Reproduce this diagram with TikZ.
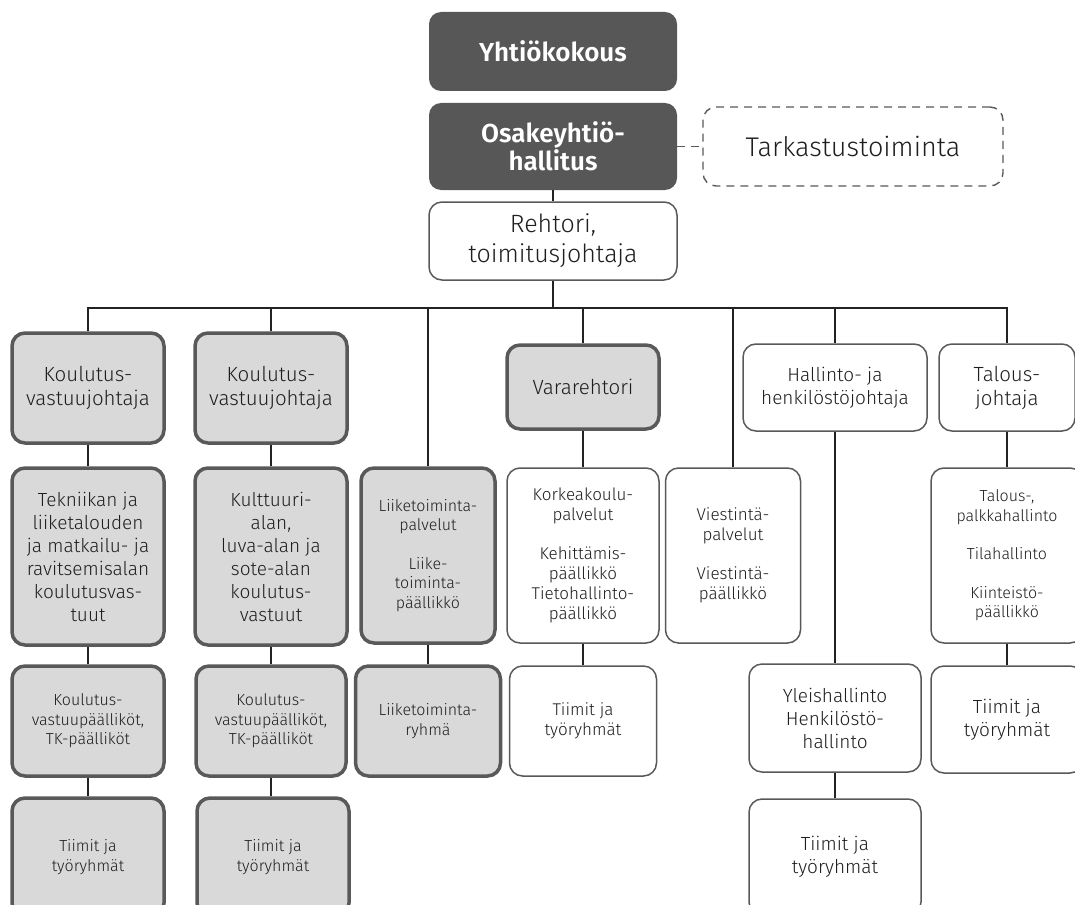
\documentclass[tikz,border=0pt]{standalone}
\usepackage{fontspec}
\setmainfont{Fira Sans}[UprightFont={* Light}, BoldFont={* SemiBold}]
\definecolor{darkc}{HTML}{575757}
\definecolor{lightc}{HTML}{D9D9D9}
\definecolor{bordc}{HTML}{595959}
\definecolor{linec}{HTML}{222222}
\definecolor{txt}{HTML}{1E1E1E}
\begin{document}
\begin{tikzpicture}[x=1pt,y=-1pt,
  every node/.style={inner sep=0pt, align=center, text=txt},
  sz/.style 2 args={minimum width=#1pt, minimum height=#2pt},
  dk/.style={fill=darkc, draw=none, rounded corners=12pt, text=white, font=\bfseries\fontsize{26}{28}\selectfont},
  thk/.style={fill=lightc, draw=bordc, line width=3.5pt, rounded corners=13pt},
  thn/.style={fill=white, draw=bordc, line width=1.5pt, rounded corners=13pt},
  dsh/.style={fill=white, draw=bordc, line width=1.4pt, dash pattern=on 8pt off 6pt, rounded corners=13pt},
  fL/.style={font=\fontsize{25}{30}\selectfont},
  fK/.style={font=\fontsize{20.5}{24}\selectfont},
  fM/.style={font=\fontsize{19}{23}\selectfont},
  fX/.style={font=\fontsize{17}{20}\selectfont},
  fS/.style={font=\fontsize{16}{19.5}\selectfont},
  conn/.style={draw=linec, line width=1.3pt}]
\useasboundingbox (0,0) rectangle (1075,904);
\clip (0,0) rectangle (1075,904);
% top
\node[dk, sz={248}{79}] (yht) at (553,51.5) {Yhtiökokous};
\node[dk, sz={248}{87}] (osa) at (553,146.5) {Osakeyhtiö-\\hallitus};
\node[dsh, sz={300}{79}, font=\fontsize{27}{30}\selectfont] (tark) at (853,146.5) {Tarkastustoiminta};
\node[thn, sz={248}{78}, fL] (reh) at (553,241) {Rehtori,\\toimitusjohtaja};
% column 1
\node[thk, sz={152}{110}, fK] (kv1) at (88,388) {Koulutus-\\vastuujohtaja};
\node[thk, sz={152}{177}, fM] (tek) at (88,556.5) {Tekniikan ja\\liiketalouden\\ja matkailu- ja\\ravitsemisalan\\koulutusvas-\\tuut};
\node[thk, sz={152}{110}, fS] (kvp1) at (88,721) {Koulutus-\\vastuupäälliköt,\\TK-päälliköt};
\node[thk, sz={152}{118}, fS] (tiim1) at (88,857) {Tiimit ja\\työryhmät};
% column 2
\node[thk, sz={152}{110}, fK] (kv2) at (271,388) {Koulutus-\\vastuujohtaja};
\node[thk, sz={152}{177}, fM] (kul) at (271,556.5) {Kulttuuri-\\alan,\\luva-alan ja\\sote-alan\\koulutus-\\vastuut};
\node[thk, sz={150}{110}, fS] (kvp2) at (271,721) {Koulutus-\\vastuupäälliköt,\\TK-päälliköt};
\node[thk, sz={152}{118}, fS] (tiim2) at (273,857) {Tiimit ja\\työryhmät};
% column 3
\node[thk, sz={134}{175}, fS] (liikp) at (428,555.5) {Liiketoiminta-\\palvelut\\[19pt]Liike-\\toiminta-\\päällikkö};
\node[thk, sz={145}{110}, fS] (liikr) at (428,721) {Liiketoiminta-\\ryhmä};
% column 4
\node[thk, sz={152}{84}, fK] (vara) at (583,387) {Vararehtori};
\node[thn, sz={152}{175}, fX] (kork) at (583,555.5) {Korkeakoulu-\\palvelut\\[19pt]Kehittämis-\\päällikkö\\Tietohallinto-\\päällikkö};
\node[thn, sz={147}{110}, fX] (tiimk) at (583,721) {Tiimit ja\\työryhmät};
% column 5
\node[thn, sz={135}{175}, fX] (viest) at (733,555.5) {Viestintä-\\palvelut\\[19pt]Viestintä-\\päällikkö};
% column 6
\node[thn, sz={184}{87}, fM] (hall) at (835,387.5) {Hallinto- ja\\henkilöstöjohtaja};
\node[thn, sz={172}{108}, fM] (yleis) at (835,718) {Yleishallinto\\Henkilöstö-\\hallinto};
\node[thn, sz={172}{116}, fM] (tiimh) at (835,857) {Tiimit ja\\työryhmät};
% column 7
\node[thn, sz={136}{87}, fK] (talj) at (1007,387.5) {Talous-\\johtaja};
\node[thn, sz={152}{175}, fS] (talp) at (1007,555.5) {Talous-,\\palkkahallinto\\[19pt]Tilahallinto\\[19pt]Kiinteistö-\\päällikkö};
\node[thn, sz={152}{107}, fM] (talt) at (1007,719.5) {Tiimit ja\\työryhmät};
% connectors
\coordinate (bus) at (553,308);
\draw[conn] (osa.south) -- (reh.north);
\draw[conn, draw=bordc, dash pattern=on 8pt off 6pt] (osa.east) -- (tark.west);
\draw[conn] (reh.south) -- (bus);
\draw[conn] (kv1.north) |- (bus) -| (talj.north);
\draw[conn] (kv2.north) -- (kv2.north |- bus);
\draw[conn] (liikp.north) -- (liikp.north |- bus);
\draw[conn] (vara.north) -- (vara.north |- bus);
\draw[conn] (viest.north) -- (viest.north |- bus);
\draw[conn] (hall.north) -- (hall.north |- bus);
\draw[conn] (kv1.south) -- (tek.north);
\draw[conn] (tek.south) -- (kvp1.north);
\draw[conn] (kvp1.south) -- (tiim1.north);
\draw[conn] (kv2.south) -- (kul.north);
\draw[conn] (kul.south) -- (kvp2.north);
\draw[conn] (kvp2.south) -- (kvp2.south |- tiim2.north);
\draw[conn] (liikp.south) -- (liikr.north);
\draw[conn] (vara.south) -- (kork.north);
\draw[conn] (kork.south) -- (tiimk.north);
\draw[conn] (hall.south) -- (yleis.north);
\draw[conn] (yleis.south) -- (tiimh.north);
\draw[conn] (talj.south) -- (talp.north);
\draw[conn] (talp.south) -- (talt.north);
\end{tikzpicture}
\end{document}
